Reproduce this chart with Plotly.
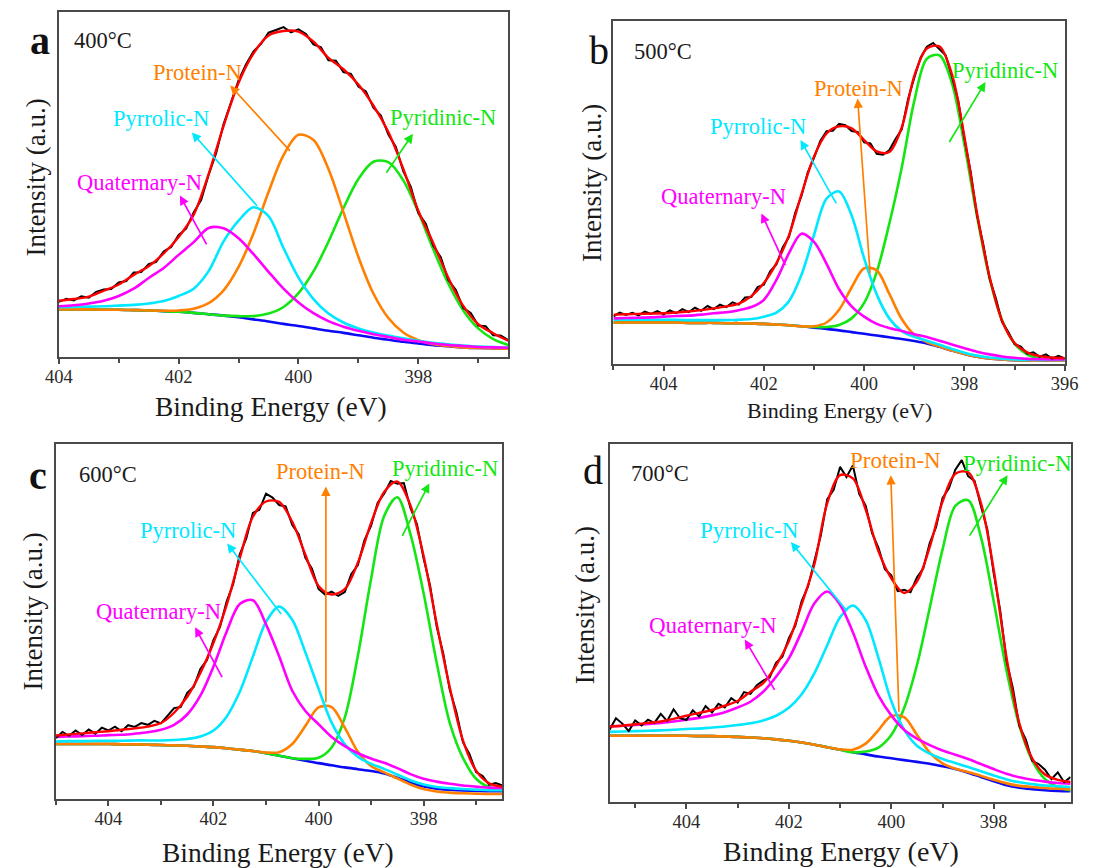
import plotly.graph_objects as go

# ------------------------------------------------------------------
# Data (intensity in % of panel height, binding energy in eV)
# Component arrays = peak intensity above the Shirley background.
# ------------------------------------------------------------------
STEP = 0.25
RAW_STEP = 0.125

# ---- a : 400 °C  (404.0 -> 396.5 eV) ----
A_START = 404.0
A_BACKGROUND = [13.8, 13.8, 13.8, 13.7, 13.7, 13.6, 13.5, 13.3, 13.1, 12.8, 12.4, 12.0, 11.5, 10.9, 10.3, 9.6,
                9.0, 8.3, 7.6, 7.0, 6.3, 5.6, 5.0, 4.4, 3.9, 3.4, 3.1, 2.8, 2.6, 2.5, 2.4]
A_QUATERNARY = [0.9, 1.2, 1.7, 2.6, 4.0, 6.2, 9.4, 12.5, 16.5, 20.5, 25.0, 25.3, 22.9, 18.9, 14.4, 10.2,
                6.8, 4.4, 2.8, 1.8, 1.3, 1.0, 0.8, 0.6, 0.6, 0.5, 0.4, 0.4, 0.3, 0.3, 0.3]
A_PYRROLIC = [0.6, 0.7, 0.8, 1.0, 1.2, 1.5, 2.0, 2.9, 4.6, 7.0, 12.5, 21.5, 28.0, 32.5, 30.5, 22.0,
              14.0, 8.5, 5.0, 3.0, 2.0, 1.5, 1.2, 1.0, 0.8, 0.7, 0.6, 0.5, 0.4, 0.4, 0.3]
A_PROTEIN = [0, 0, 0, 0, 0, 0, 0, 0.1, 0.4, 1.2, 3.2, 7.3, 14.6, 25.0, 37.5, 48.9,
             55.4, 54.6, 46.9, 35.0, 22.7, 12.8, 6.3, 2.7, 1.0, 0.3, 0.1, 0, 0, 0, 0]
A_PYRIDINIC = [0, 0, 0, 0, 0, 0, 0, 0, 0, 0, 0, 0, 0.35, 0.95, 2.3, 4.9,
               9.5, 16.5, 25.8, 36.1, 45.3, 51.0, 51.5, 46.8, 38.1, 27.8, 18.2, 10.7, 5.7, 2.7, 1.1]
A_FIT = [16.3, 16.8, 17.5, 19.2, 21.0, 23.8, 26.3, 30.0, 34.8, 41.2, 53.0, 67.0, 79.5, 88.0, 93.2, 94.5,
         94.3, 91.4, 86.7, 83.4, 79.0, 72.9, 65.2, 54.5, 42.4, 33.0, 23.0, 14.8, 9.5, 6.9, 4.7]
A_RAW = [16.0, 16.9, 16.4, 17.6, 17.2, 18.9, 19.6, 19.7, 21.6, 22.0, 24.5, 24.6, 26.9, 27.6, 30.6, 31.9,
         35.4, 37.2, 41.9, 45.5, 52.8, 59.1, 67.5, 73.6, 80.2, 84.9, 88.6, 90.8, 94.0, 94.8, 95.6, 94.1,
         95.0, 93.6, 90.6, 89.8, 86.0, 85.9, 82.6, 82.1, 78.4, 77.0, 72.3, 70.0, 64.5, 60.9, 53.8, 49.3,
         41.7, 38.6, 32.2, 28.9, 22.3, 19.5, 14.2, 12.8, 9.1, 8.9, 6.3, 6.2, 4.9]

# ---- b : 500 °C  (405.0 -> 396.0 eV) ----
B_START = 405.0
B_BACKGROUND = [12.1, 12.1, 12.1, 12.1, 12.1, 12.1, 12.0, 12.0, 12.0, 11.9, 11.9, 11.8, 11.7, 11.5, 11.3, 11.0,
                10.6, 10.2, 9.8, 9.3, 8.8, 8.3, 7.8, 7.3, 6.7, 6.0, 5.0, 3.9, 2.9, 2.1, 1.6, 1.3,
                1.1, 1.0, 1.0, 1.0, 1.0]
B_QUATERNARY = [1.2, 1.3, 1.4, 1.5, 1.7, 1.9, 2.1, 2.4, 2.8, 3.2, 3.8, 4.8, 7.0, 13.0, 21.0, 27.0,
                25.0, 19.0, 12.0, 7.5, 5.0, 3.4, 2.7, 2.3, 2.0, 1.9, 1.8, 1.8, 1.7, 1.5, 1.2, 0.9,
                0.7, 0.5, 0.4, 0.3, 0.3]
B_PYRROLIC = [0.8, 0.8, 0.8, 0.8, 0.8, 0.8, 0.8, 0.8, 0.8, 0.9, 1.0, 1.3, 2.1, 3.5, 7.0, 15.0,
              27.0, 38.0, 40.5, 34.0, 22.0, 12.0, 5.5, 2.3, 1.2, 0.8, 0.6, 0.5, 0.4, 0.35, 0.3, 0.25,
              0.2, 0.2, 0.2, 0.15, 0.15]
B_PROTEIN = [0, 0, 0, 0, 0, 0, 0, 0, 0, 0, 0, 0, 0, 0, 0, 0,
             0.4, 1.9, 6.0, 13.0, 19.1, 19.0, 12.7, 5.8, 1.8, 0.4, 0.1, 0, 0, 0, 0, 0,
             0, 0, 0, 0, 0]
B_PYRIDINIC = [0, 0, 0, 0, 0, 0, 0, 0, 0, 0, 0, 0, 0, 0, 0, 0,
               0.2, 0.6, 1.6, 4.0, 9.0, 18.5, 33.0, 50.0, 70.0, 83.0, 85.0, 78.0, 61.0, 41.0, 23.5, 11.5,
               4.8, 1.8, 0.6, 0.2, 0.1]
B_FIT = [14.4, 14.5, 14.6, 14.7, 14.8, 15.0, 15.3, 15.7, 16.2, 16.8, 17.6, 19.8, 23.6, 29.4, 37.5, 49.5,
         60.5, 67.2, 69.3, 68.7, 65.3, 62.0, 61.8, 69.0, 84.0, 92.0, 92.6, 84.5, 66.2, 44.0, 25.5, 12.6,
         6.1, 3.4, 2.3, 1.9, 1.7]
B_RAW = [13.9, 15.0, 14.3, 14.9, 14.2, 15.3, 14.6, 15.4, 14.5, 15.6, 14.8, 16.0, 15.1, 16.4, 15.5, 16.9,
         16.0, 17.3, 16.6, 18.0, 17.3, 19.4, 19.5, 22.4, 23.1, 27.0, 29.0, 34.0, 37.0, 44.1, 49.0, 55.9,
         60.1, 65.0, 67.9, 68.0, 70.0, 69.6, 67.9, 67.6, 64.6, 64.3, 61.3, 61.0, 62.3, 65.6, 68.4, 77.2,
         83.5, 89.3, 92.5, 93.6, 91.8, 90.0, 83.8, 76.8, 65.6, 56.0, 43.4, 34.9, 25.0, 19.2, 12.2, 9.3,
         5.8, 5.1, 3.0, 3.4, 2.1, 2.8, 1.6, 2.4, 1.6]

# ---- c : 600 °C  (405.0 -> 396.5 eV) ----
C_START = 405.0
C_BACKGROUND = [15.5, 15.5, 15.5, 15.5, 15.5, 15.4, 15.4, 15.3, 15.2, 15.1, 15.0, 14.8, 14.6, 14.3, 13.9, 13.5,
                12.9, 12.2, 11.5, 10.8, 10.1, 9.5, 8.9, 8.4, 7.9, 7.2, 6.0, 4.6, 3.5, 2.9, 2.6, 2.4,
                2.3, 2.2, 2.2]
C_QUATERNARY = [2.0, 2.1, 2.2, 2.3, 2.5, 2.7, 3.0, 3.5, 4.3, 5.8, 8.8, 14.3, 22.7, 32.8, 41.0, 42.5,
                36.3, 28.0, 19.0, 14.0, 11.0, 8.0, 6.0, 4.5, 3.5, 3.0, 2.7, 2.4, 2.2, 2.0, 1.7, 1.4,
                1.2, 1.0, 0.9]
C_PYRROLIC = [0.7, 0.8, 0.8, 0.9, 0.9, 1.0, 1.1, 1.2, 1.3, 1.5, 1.9, 2.8, 4.7, 8.9, 16.3, 26.6,
              37.0, 42.0, 39.0, 30.5, 21.0, 12.0, 6.5, 3.5, 2.0, 1.3, 0.9, 0.7, 0.6, 0.5, 0.45, 0.4,
              0.35, 0.3, 0.3]
C_PROTEIN = [0, 0, 0, 0, 0, 0, 0, 0, 0, 0, 0, 0, 0, 0, 0, 0,
             0.2, 1.0, 4.0, 9.8, 15.7, 16.4, 11.2, 4.9, 1.4, 0.3, -0.2, -0.5, -0.7, -0.8, -0.8, -0.8,
             -0.8, -0.8, -0.8]
C_PYRIDINIC = [0, 0, 0, 0, 0, 0, 0, 0, 0, 0, 0, 0, 0, 0, 0, 0,
               0, 0, 0, 0.5, 1.5, 5.0, 14.0, 32.0, 54.0, 72.5, 79.0, 70.0, 54.5, 35.5, 18.8, 9.2,
               3.4, 1.1, 0.3]
C_FIT = [17.9, 18.2, 18.5, 18.8, 19.1, 19.5, 19.9, 20.4, 21.4, 24.3, 28.8, 35.5, 44.0, 54.6, 67.8, 79.5,
         83.8, 83.7, 78.1, 68.8, 60.0, 57.6, 59.1, 66.6, 77.7, 86.5, 89.4, 82.7, 68.5, 49.4, 31.4, 16.5,
         8.0, 4.4, 3.5]
C_RAW = [17.2, 18.9, 17.8, 19.3, 18.0, 19.6, 18.4, 20.1, 19.3, 20.4, 19.1, 20.8, 20.3, 21.4, 20.9, 22.0,
         21.3, 23.6, 25.6, 25.9, 29.9, 31.6, 36.6, 39.1, 44.8, 48.5, 55.6, 60.5, 68.9, 73.4, 80.6, 81.5,
         86.0, 84.9, 82.8, 82.4, 77.2, 74.5, 67.9, 64.9, 59.2, 57.6, 58.4, 57.2, 58.3, 63.4, 65.9, 72.9,
         76.9, 83.4, 86.0, 89.6, 88.8, 89.0, 82.0, 77.4, 67.8, 60.1, 48.6, 41.0, 30.7, 24.5, 16.0, 12.6,
         7.6, 6.5, 4.0, 4.5, 3.8]

# ---- d : 700 °C  (405.5 -> 396.5 eV) ----
D_START = 405.5
D_BACKGROUND = [18.5, 18.5, 18.5, 18.5, 18.5, 18.5, 18.5, 18.4, 18.4, 18.3, 18.2, 18.0, 17.8, 17.5, 17.1, 16.6,
                16.0, 15.3, 14.6, 13.9, 13.3, 12.7, 12.2, 11.7, 11.2, 10.7, 10.0, 9.2, 8.2, 7.0, 5.8, 4.7,
                4.0, 3.6, 3.3, 3.1, 3.0]
D_QUATERNARY = [2.6, 2.8, 3.0, 3.3, 3.6, 4.0, 4.5, 5.1, 5.8, 6.8, 8.2, 10.0, 13.0, 17.5, 23.0, 31.0,
                39.5, 43.5, 40.5, 33.5, 24.5, 17.0, 12.0, 8.5, 6.5, 5.2, 4.4, 4.0, 3.8, 3.6, 3.4, 3.2,
                2.9, 2.6, 2.4, 2.2, 2.1]
D_PYRROLIC = [1.1, 1.2, 1.3, 1.4, 1.5, 1.7, 1.9, 2.1, 2.4, 2.8, 3.3, 4.0, 5.0, 6.6, 9.2, 13.5,
              20.0, 28.5, 37.0, 41.0, 37.5, 27.5, 16.0, 8.5, 4.5, 2.8, 2.0, 1.7, 1.6, 1.6, 1.6, 1.6,
              1.5, 1.4, 1.3, 1.3, 1.2]
D_PROTEIN = [0, 0, 0, 0, 0, 0, 0, 0, 0, 0, 0, 0, 0, 0, 0, 0,
             0, 0, 0.1, 0.7, 3.0, 7.4, 11.8, 12.0, 7.6, 3.1, 0.8, 0.1, 0.2, 0.3, 0.4, 0.5,
             0.5, 0.6, 0.6, 0.6, 0.6]
D_PYRIDINIC = [0, 0, 0, 0, 0, 0, 0, 0, 0, 0, 0, 0, 0, 0, 0, 0,
               0, 0, 0, 0, 0.8, 2.5, 6.5, 14.5, 27.0, 43.5, 60.5, 73.5, 76.1, 67.0, 50.2, 32.0,
               17.3, 8.0, 3.1, 1.0, 0.3]
D_FIT = [21.1, 21.3, 21.7, 22.1, 22.5, 23.2, 24.1, 24.9, 25.7, 26.9, 28.2, 30.8, 33.2, 38.1, 44.9, 55.2,
         66.5, 83.5, 91.3, 90.4, 81.7, 70.0, 62.5, 58.4, 61.6, 71.2, 83.9, 91.7, 92.1, 83.5, 64.8, 40.3,
         22.0, 12.2, 7.7, 6.2, 5.6]
D_RAW = [20.2, 23.4, 21.9, 19.8, 22.8, 21.4, 23.0, 22.1, 24.6, 22.6, 25.9, 23.4, 22.9, 25.6, 23.9, 26.8,
         25.0, 27.4, 26.4, 29.0, 27.8, 30.7, 30.2, 32.6, 33.9, 34.8, 38.9, 40.6, 45.8, 49.2, 56.1, 60.2,
         67.4, 74.5, 84.6, 87.2, 93.6, 90.8, 94.0, 86.0, 82.8, 75.1, 71.0, 65.0, 63.3, 58.9, 59.3, 58.6,
         62.7, 65.3, 72.3, 76.8, 84.9, 87.6, 92.8, 95.5, 91.0, 89.7, 82.6, 76.1, 63.8, 53.6, 39.4, 31.7,
         21.2, 17.5, 11.5, 10.6, 9.0, 6.4, 8.3, 5.5, 7.0]

TEMPERATURES = ['400°C', '500°C', '600°C', '700°C']
PANEL_LETTERS = ['a', 'b', 'c', 'd']

# ------------------------------------------------------------------
# Layout / style
# ------------------------------------------------------------------
W, H = 1107, 868
FONT = 'Liberation Serif'
COL = {'raw': '#000000', 'fit': '#FF0000', 'bg': '#0A0AF5', 'Quaternary-N': '#FF00FF',
       'Pyrrolic-N': '#00E8FF', 'Protein-N': '#FF8000', 'Pyridinic-N': '#14E614'}
AXC = '#4a4a4a'

# plot boxes in pixels (left, top, right, bottom) and x ranges
BOXES = [(46, 12, 507, 357), (615, 21, 1078, 364), (43, 444, 501, 799), (611, 444, 1084, 802)]
XRANGES = [(404.0, 396.5), (405.0, 396.0), (405.0, 396.5), (405.5, 396.5)]
XTITLE = [(264, 406, 27.5), (847, 410, 22), (271, 852, 27.5), (848, 851, 28)]
YTITLE = [(23, 177), (593, 183), (19, 612), (586, 605)]
LETTER_POS = [(27, 40, True), (600, 50, False), (25, 475, True), (594, 470, False)]
TEMP_POS = [(403.26, 91.8), (404.02, 91.0), (404.01, 91.3), (404.51, 91.8)]
LABEL_SIZE = [22.5, 22.5, 22.5, 23]
# label: (text, text_x, text_y, head_x, head_y, tail_x, tail_y)
LABELS = [
    [('Protein-N', 401.69, 82.6, 401.14, 78.7, 400.12, 59.3),
     ('Pyrrolic-N', 402.30, 69.0, 401.78, 65.1, 400.67, 43.4),
     ('Quaternary-N', 402.65, 50.6, 401.98, 46.8, 401.52, 32.2),
     ('Pyridinic-N', 397.59, 69.3, 398.09, 64.7, 398.55, 53.0)],
    [('Protein-N', 400.12, 80.3, 400.13, 77.4, 399.88, 26.0),
     ('Pyrrolic-N', 402.12, 69.2, 401.27, 65.3, 400.54, 46.4),
     ('Quaternary-N', 402.80, 48.8, 402.05, 43.9, 401.56, 28.4),
     ('Pyridinic-N', 397.20, 85.6, 397.58, 82.2, 398.32, 64.3)],
    [('Protein-N', 399.97, 92.2, 399.86, 88.0, 399.86, 26.8),
     ('Pyrrolic-N', 402.48, 75.7, 401.74, 72.0, 400.69, 51.7),
     ('Quaternary-N', 403.04, 52.7, 402.35, 48.4, 401.82, 33.9),
     ('Pyridinic-N', 397.60, 93.1, 397.89, 88.9, 398.42, 73.7)],
    [('Protein-N', 399.92, 95.5, 400.01, 91.3, 399.85, 24.8),
     ('Pyrrolic-N', 402.76, 75.8, 401.96, 72.6, 400.84, 52.9),
     ('Quaternary-N', 403.48, 49.2, 402.86, 45.4, 402.26, 30.9),
     ('Pyridinic-N', 397.53, 94.6, 397.73, 91.3, 398.49, 74.0)],
]


def grid(start, n, step):
    return [round(start - i * step, 4) for i in range(n)]


def on_background(peak, bg):
    return [round(b + p, 2) for b, p in zip(bg, peak)]


PANELS = [
    (A_START, A_BACKGROUND, A_QUATERNARY, A_PYRROLIC, A_PROTEIN, A_PYRIDINIC, A_FIT, A_RAW),
    (B_START, B_BACKGROUND, B_QUATERNARY, B_PYRROLIC, B_PROTEIN, B_PYRIDINIC, B_FIT, B_RAW),
    (C_START, C_BACKGROUND, C_QUATERNARY, C_PYRROLIC, C_PROTEIN, C_PYRIDINIC, C_FIT, C_RAW),
    (D_START, D_BACKGROUND, D_QUATERNARY, D_PYRROLIC, D_PROTEIN, D_PYRIDINIC, D_FIT, D_RAW),
]

fig = go.Figure()
annotations = []
layout_axes = {}

for k, (start, bg, quat, pyrr, prot, pyri, fit, raw) in enumerate(PANELS):
    idx = '' if k == 0 else str(k + 1)
    xr, yr = 'x' + idx, 'y' + idx
    e = grid(start, len(bg), STEP)
    e_raw = grid(start, len(raw), RAW_STEP)
    comps = {'Quaternary-N': quat, 'Pyrrolic-N': pyrr, 'Protein-N': prot, 'Pyridinic-N': pyri}

    def add(x, y, color, width, shape='spline'):
        fig.add_trace(go.Scatter(x=x, y=y, mode='lines', xaxis=xr, yaxis=yr, hoverinfo='skip',
                                 line=dict(color=color, width=width, shape=shape, smoothing=0.9)))

    add(e, bg, COL['bg'], 2.6)
    for name in ['Pyridinic-N', 'Protein-N', 'Pyrrolic-N', 'Quaternary-N']:
        add(e, on_background(comps[name], bg), COL[name], 2.6)
    add(e_raw, raw, COL['raw'], 2.0, 'linear')
    add(e, fit, COL['fit'], 2.4)

    l, t, r, b = BOXES[k]
    layout_axes['xaxis' + idx] = dict(
        domain=[l / W, r / W], range=list(XRANGES[k]), anchor=yr,
        tickmode='linear', tick0=398, dtick=2, ticks='outside', ticklen=5, tickwidth=1.6,
        tickcolor=AXC, showline=True, linecolor=AXC, linewidth=1.8, mirror=True,
        showgrid=False, zeroline=False, ticklabelstandoff=-3,
        tickfont=dict(family=FONT, size=18.5, color='#2a2a2a'),
        minor=dict(tick0=397, dtick=2, ticks='outside', ticklen=4, tickwidth=1.6, tickcolor=AXC, showgrid=False))
    layout_axes['yaxis' + idx] = dict(
        domain=[1 - b / H, 1 - t / H], range=[0, 100], anchor=xr,
        showticklabels=False, ticks='', showline=True, linecolor=AXC, linewidth=1.8, mirror=True,
        showgrid=False, zeroline=False)

    # axis titles
    tx, ty, ts = XTITLE[k]
    annotations.append(dict(x=tx / W, y=1 - ty / H, xref='paper', yref='paper', text='Binding Energy (eV)',
                            showarrow=False, xanchor='center', yanchor='middle',
                            font=dict(family=FONT, size=ts, color='#1a1a1a')))
    yx, yy = YTITLE[k]
    annotations.append(dict(x=yx / W, y=1 - yy / H, xref='paper', yref='paper', text='Intensity (a.u.)',
                            textangle=-90, showarrow=False, xanchor='center', yanchor='middle',
                            font=dict(family=FONT, size=27, color='#1a1a1a')))
    lx, ly, bold = LETTER_POS[k]
    letter = '<b>%s</b>' % PANEL_LETTERS[k] if bold else PANEL_LETTERS[k]
    annotations.append(dict(x=lx / W, y=1 - ly / H, xref='paper', yref='paper', text=letter,
                            showarrow=False, xanchor='center', yanchor='middle',
                            font=dict(family=FONT, size=40, color='#111111')))
    px_, py_ = TEMP_POS[k]
    annotations.append(dict(x=px_, y=py_, xref=xr, yref=yr, text=TEMPERATURES[k], showarrow=False,
                            xanchor='center', yanchor='middle', font=dict(family=FONT, size=22.5, color='#1a1a1a')))
    for (txt, lxx, lyy, hx, hy, sx, sy) in LABELS[k]:
        c = COL[txt]
        annotations.append(dict(x=hx, y=hy, ax=sx, ay=sy, xref=xr, yref=yr, axref=xr, ayref=yr, text='',
                                showarrow=True, arrowhead=2, arrowsize=1.1, arrowwidth=1.7, arrowcolor=c))
        annotations.append(dict(x=lxx, y=lyy, xref=xr, yref=yr, text=txt, showarrow=False,
                                xanchor='center', yanchor='middle',
                                font=dict(family=FONT, size=LABEL_SIZE[k], color=c)))

fig.update_layout(width=W, height=H, autosize=False, margin=dict(l=0, r=0, t=0, b=0),
                  paper_bgcolor='white', plot_bgcolor='white', showlegend=False,
                  annotations=annotations, **layout_axes)

fig.write_html("out.html")
